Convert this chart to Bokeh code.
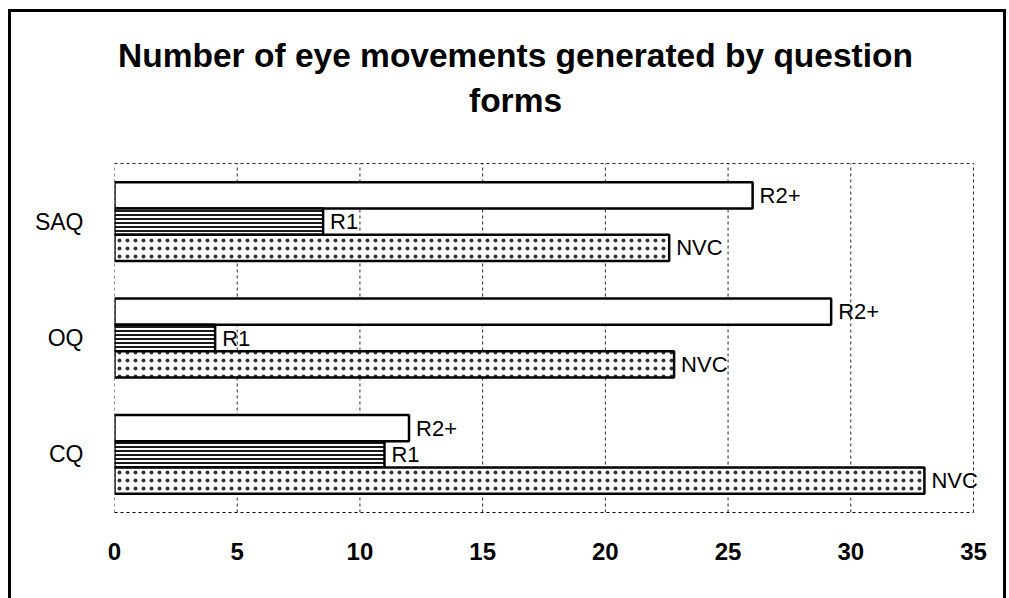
from bokeh.plotting import figure
from bokeh.models import Range1d, FixedTicker, ColumnDataSource
from bokeh.core.properties import value
from bokeh.embed import file_html
from bokeh.resources import INLINE

title_lines = ["Number of eye movements generated by question", "forms"]
categories = ["SAQ", "OQ", "CQ"]          # top to bottom
series_names = ["R2+", "R1", "NVC"]       # top to bottom inside each group
r2_values = [26, 29.2, 12]
r1_values = [8.5, 4.1, 11]
nvc_values = [22.6, 22.8, 33]
x_ticks = [0, 5, 10, 15, 20, 25, 30, 35]

FONT = "Liberation Sans"
W, H = 992, 586
n = len(categories)
bar_h = 0.226
head = 1.298            # room above the plot area (in category units) for the title

p = figure(width=W, height=H, x_range=Range1d(0, 36.1), y_range=Range1d(0, n + head),
           output_backend="svg", toolbar_location=None,
           min_border_left=103, min_border_right=3, min_border_top=0, min_border_bottom=86)
p.styles = {"margin-left": "11px", "margin-top": "12px", "outline": "3px solid black"}
p.outline_line_color = None
p.background_fill_color = "white"
p.border_fill_color = "white"
p.xgrid.grid_line_color = None
p.ygrid.grid_line_color = None

# dashed vertical gridlines and top border of the plot area
p.segment(x0=x_ticks, x1=x_ticks, y0=[0] * len(x_ticks), y1=[n] * len(x_ticks),
          line_color="black", line_dash="3 3", line_width=1, line_alpha=0.85, level="underlay")
p.segment(x0=[x_ticks[0]], x1=[x_ticks[-1]], y0=[n], y1=[n],
          line_color="black", line_dash="3 3", line_width=1, line_alpha=0.85, level="underlay")

# bottom axis
p.xaxis.ticker = FixedTicker(ticks=x_ticks)
p.xaxis.bounds = (x_ticks[0], x_ticks[-1])
p.xaxis.axis_line_dash = "3 3"
p.xaxis.axis_line_width = 1
p.xaxis.major_tick_line_color = None
p.xaxis.major_tick_out = 0
p.xaxis.major_tick_in = 0
p.xaxis.minor_tick_line_color = None
p.xaxis.major_label_standoff = 30
p.xaxis.major_label_text_font = FONT
p.xaxis.major_label_text_font_size = "24px"
p.xaxis.major_label_text_font_style = "bold"
p.xaxis.major_label_text_color = "black"

# y axis (categories)
centers = [n - i - 0.5 for i in range(n)]
p.yaxis.ticker = FixedTicker(ticks=centers)
p.yaxis.major_label_overrides = {c: name for c, name in zip(centers, categories)}
p.yaxis.axis_line_color = None
p.yaxis.major_tick_line_color = None
p.yaxis.major_tick_out = 0
p.yaxis.major_tick_in = 0
p.yaxis.minor_tick_line_color = None
p.yaxis.major_label_standoff = 31
p.yaxis.major_label_text_font = FONT
p.yaxis.major_label_text_font_size = "23px"
p.yaxis.major_label_text_color = "black"

styles = [
    dict(fill_color="white"),
    dict(fill_color="white", hatch_pattern="horizontal_line", hatch_color="#1a1a1a",
         hatch_scale=4, hatch_weight=2.0),
    dict(fill_color="white", hatch_pattern="dot", hatch_color="#333333",
         hatch_scale=8, hatch_weight=0.9),
]
all_values = [r2_values, r1_values, nvc_values]

for j, (name, vals, st) in enumerate(zip(series_names, all_values, styles)):
    ys = [c + (1 - j) * bar_h for c in centers]
    src = ColumnDataSource(dict(y=ys, right=vals, label=[name] * n))
    p.hbar(y="y", left=0, right="right", height=bar_h, source=src,
           line_color="black", line_width=2.5, **st)
    p.text(x="right", y="y", text="label", source=src, x_offset=7,
           text_baseline="middle", text_align="left",
           text_font=value(FONT), text_font_size="22px", text_color="black")

# title: two centred lines in the head room above the plot area
title_x = 16.34
title_src = ColumnDataSource(dict(x=[title_x, title_x], y=[n + 0.928, n + 0.542], t=title_lines))
p.text(x="x", y="y", text="t", source=title_src, text_align="center", text_baseline="middle",
       text_font=value(FONT), text_font_size="33.5px", text_font_style="bold", text_color="black")

open("out.html", "w").write(file_html(p, INLINE))
